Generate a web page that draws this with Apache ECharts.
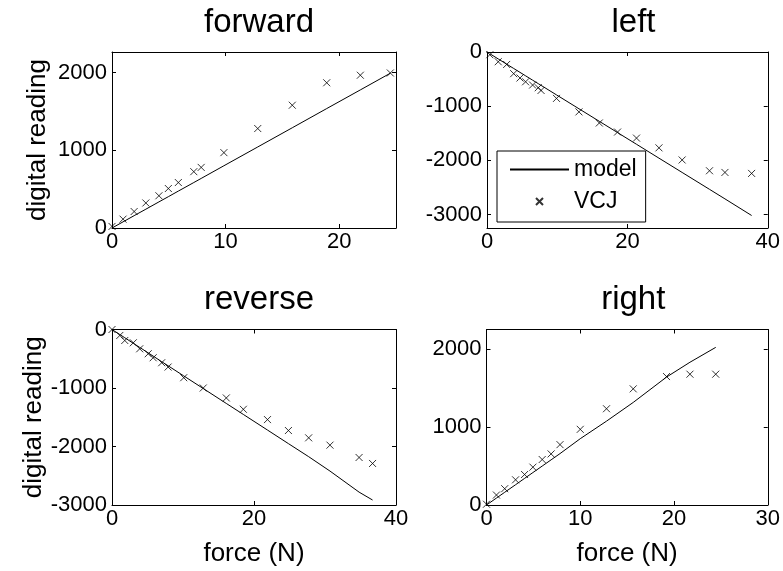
<!DOCTYPE html>
<html>
<head>
<meta charset="utf-8">
<script src="https://cdn.jsdelivr.net/npm/echarts@6/dist/echarts.min.js"></script>
<style>
  html, body { margin: 0; padding: 0; background: #fff; }
  #chart { width: 783px; height: 571px; }
</style>
</head>
<body>
<div id="chart"></div>
<script>
// Force sensor calibration: measured digital reading vs. applied force, four directions.

// forward
const forwardForce = [0, 0.97, 1.95, 2.98, 4.13, 4.96, 5.84, 7.2, 7.85, 9.85, 12.83, 15.87, 18.9, 21.86, 24.5];
const forwardVCJ   = [20, 114, 212, 322, 415, 508, 585, 725, 780, 970, 1280, 1580, 1869, 1966, 1995];
const forwardModel = [0, 79, 159, 242, 336, 403, 475, 585, 638, 801, 1043, 1290, 1537, 1777, 1992];

// left
const leftForce = [0.4, 1.6, 2.8, 3.8, 4.7, 5.5, 6.5, 7.3, 7.7, 9.9, 13.1, 16.0, 18.6, 21.3, 24.5, 27.8, 31.7, 33.9, 37.7];
const leftVCJ   = [-50, -180, -230, -400, -480, -550, -610, -660, -710, -857, -1106, -1311, -1478, -1590, -1770, -1994, -2193, -2224, -2242];
const leftModel = [-32, -128, -224, -304, -376, -440, -520, -584, -616, -792, -1048, -1280, -1488, -1704, -1960, -2224, -2536, -2712, -3019];

// reverse
const reverseForce = [0, 1.1, 1.8, 3.0, 3.9, 5.1, 5.8, 7.0, 7.9, 10.1, 12.85, 16.1, 18.5, 21.9, 24.85, 27.7, 30.7, 34.8, 36.7];
const reverseVCJ   = [0, -102, -188, -227, -330, -415, -483, -568, -642, -824, -1000, -1170, -1364, -1540, -1727, -1852, -1977, -2188, -2290];
const reverseModel = [0, -86, -141, -236, -306, -400, -455, -550, -620, -793, -1009, -1264, -1452, -1719, -1951, -2174, -2420, -2780, -2915];

// right
const rightForce = [0, 1.06, 1.94, 3.1, 4.06, 4.95, 5.94, 6.89, 7.84, 10.0, 12.8, 15.65, 19.2, 21.7, 24.45];
const rightVCJ   = [10, 128, 209, 323, 391, 485, 583, 655, 774, 970, 1234, 1489, 1647, 1677, 1677];
const rightModel = [0, 89, 163, 260, 341, 416, 499, 579, 659, 850, 1075, 1315, 1640, 1830, 2021];

// axis ranges and tick values
const panelTitles = ['forward', 'left', 'reverse', 'right'];
const xRanges = [[0, 25], [0, 40], [0, 40], [0, 30]];
const xTickValues = [[0, 10, 20], [0, 20, 40], [0, 20, 40], [0, 10, 20, 30]];
const yRanges = [[0, 2265], [-3250, 0], [-3000, 0], [0, 2250]];
const yTickValues = [[0, 1000, 2000], [-3000, -2000, -1000, 0], [-3000, -2000, -1000, 0], [0, 1000, 2000]];

const FONT = '"Liberation Sans", Arial, sans-serif';

const grids = [
  { left: 112, top: 52, width: 284, height: 176 },
  { left: 487, top: 52, width: 283, height: 176 },
  { left: 112, top: 329.5, width: 284, height: 175.5 },
  { left: 486.5, top: 329.5, width: 283.5, height: 175.5 }
];

const pairs = (xs, ys) => xs.map((x, i) => [x, ys[i]]);
const panels = [
  [forwardForce, forwardVCJ, forwardModel],
  [leftForce, leftVCJ, leftModel],
  [reverseForce, reverseVCJ, reverseModel],
  [rightForce, rightVCJ, rightModel]
];

const xAxes = [], yAxes = [], series = [], titles = [];
const crossPath = 'path://M0,0L10,10M10,0L0,10';
const plain = v => String(v);

grids.forEach((g, i) => {
  const bottomRow = i >= 2, leftCol = i % 2 === 0;
  const boxLine = { show: true, onZero: false, lineStyle: { color: '#000', width: 1 } };
  const ticks = vals => ({ show: true, inside: true, length: 4, customValues: vals, lineStyle: { color: '#000' } });
  // labelled axis (bottom)
  xAxes.push({
    type: 'value', gridIndex: i, position: 'bottom',
    min: xRanges[i][0], max: xRanges[i][1],
    axisLine: boxLine,
    axisTick: ticks(xTickValues[i]),
    axisLabel: { customValues: xTickValues[i], formatter: plain, color: '#000', fontFamily: FONT, fontSize: 22, margin: 3 },
    splitLine: { show: false },
    name: bottomRow ? 'force (N)' : '',
    nameLocation: 'middle', nameGap: 36,
    nameTextStyle: { color: '#000', fontFamily: FONT, fontSize: 26 }
  });
  // mirrored axis (top) closing the box, with inward ticks
  xAxes.push({
    type: 'value', gridIndex: i, position: 'top',
    min: xRanges[i][0], max: xRanges[i][1],
    axisLine: boxLine,
    axisTick: ticks(xTickValues[i]),
    axisLabel: { show: false },
    splitLine: { show: false }
  });
  yAxes.push({
    type: 'value', gridIndex: i, position: 'left',
    min: yRanges[i][0], max: yRanges[i][1],
    axisLine: boxLine,
    axisTick: ticks(yTickValues[i]),
    axisLabel: { customValues: yTickValues[i], formatter: plain, color: '#000', fontFamily: FONT, fontSize: 22, margin: 5 },
    splitLine: { show: false },
    name: leftCol ? 'digital reading' : '',
    nameLocation: 'middle', nameGap: 61,
    nameTextStyle: { color: '#000', fontFamily: FONT, fontSize: 26 }
  });
  yAxes.push({
    type: 'value', gridIndex: i, position: 'right',
    min: yRanges[i][0], max: yRanges[i][1],
    axisLine: boxLine,
    axisTick: ticks(yTickValues[i]),
    axisLabel: { show: false },
    splitLine: { show: false }
  });

  const [force, vcj, model] = panels[i];
  series.push({
    name: 'model', type: 'line',
    xAxisIndex: 2 * i, yAxisIndex: 2 * i,
    data: pairs(force, model),
    symbol: 'none', silent: true, animation: false,
    itemStyle: { color: '#000' },
    lineStyle: { color: '#000', width: 1 }
  });
  series.push({
    name: 'VCJ', type: 'scatter',
    xAxisIndex: 2 * i, yAxisIndex: 2 * i,
    data: pairs(force, vcj),
    symbol: crossPath, symbolSize: 7, silent: true, animation: false,
    itemStyle: { color: 'none', borderColor: '#000', borderWidth: 1 }
  });

  titles.push({
    text: panelTitles[i],
    left: g.left + g.width / 2, top: bottomRow ? 278 : 1,
    textAlign: 'center',
    textStyle: { color: '#000', fontFamily: FONT, fontSize: 33, fontWeight: 'normal' }
  });
});

const chart = echarts.init(document.getElementById('chart'), null, { renderer: 'canvas' });
chart.setOption({
  backgroundColor: '#fff',
  animation: false,
  title: titles,
  grid: grids,
  xAxis: xAxes,
  yAxis: yAxes,
  legend: {
    data: [
      { name: 'model', itemStyle: { color: 'rgba(0,0,0,0)', borderWidth: 0 } },
      { name: 'VCJ' }
    ],
    orient: 'vertical',
    left: 497, top: 151,
    itemWidth: 59, itemHeight: 7, itemGap: 9,
    padding: [7, 9, 9, 12],
    backgroundColor: '#fff',
    borderColor: '#000', borderWidth: 1, borderRadius: 0,
    selectedMode: false,
    textStyle: { color: '#000', fontFamily: FONT, fontSize: 23, lineHeight: 23 }
  },
  series: series
});
</script>
</body>
</html>
